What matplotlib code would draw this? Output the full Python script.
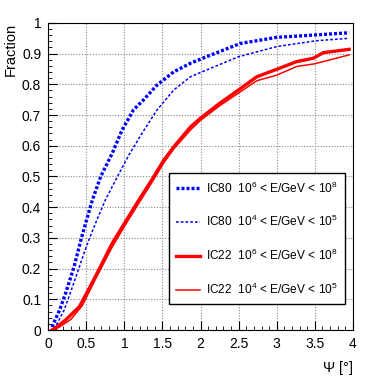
import matplotlib
matplotlib.use('Agg')
import matplotlib.pyplot as plt
from matplotlib.ticker import MultipleLocator, FormatStrFormatter

plt.rcParams['font.family'] = ['Liberation Sans', 'DejaVu Sans']
plt.rcParams['mathtext.fontset'] = 'custom'
plt.rcParams['mathtext.rm'] = 'Liberation Sans'
plt.rcParams['mathtext.it'] = 'Liberation Sans'

# IC80, 10^6 < E/GeV < 10^8
ic80_hi_x = [0.05, 0.15, 0.23, 0.34, 0.43, 0.5, 0.58, 0.69, 0.84, 0.97, 1.12, 1.25,
             1.43, 1.65, 1.87, 2.08, 2.52, 3.0, 3.52, 3.95]
ic80_hi_y = [0.01, 0.065, 0.12, 0.206, 0.293, 0.355, 0.423, 0.5, 0.575, 0.651, 0.717, 0.749,
             0.798, 0.841, 0.869, 0.89, 0.933, 0.953, 0.961, 0.968]

# IC80, 10^4 < E/GeV < 10^5
ic80_lo_x = [0.07, 0.12, 0.21, 0.32, 0.41, 0.5, 0.62, 0.75, 0.91, 1.06, 1.23, 1.36,
             1.43, 1.65, 1.87, 2.08, 2.5, 3.0, 3.52, 3.95]
ic80_lo_y = [0.005, 0.022, 0.065, 0.141, 0.206, 0.271, 0.347, 0.423, 0.5, 0.57, 0.64, 0.69,
             0.717, 0.782, 0.825, 0.847, 0.89, 0.923, 0.942, 0.95]

# IC22, 10^6 < E/GeV < 10^8
ic22_hi_x = [0.05, 0.1, 0.23, 0.41, 0.62, 0.84, 1.0, 1.19, 1.36, 1.52, 1.65, 1.87, 2.0,
             2.25, 2.5, 2.74, 3.0, 3.26, 3.48, 3.61, 3.95]
ic22_hi_y = [0.0, 0.008, 0.033, 0.076, 0.174, 0.282, 0.347, 0.423, 0.489, 0.554, 0.597, 0.662, 0.69,
             0.738, 0.782, 0.825, 0.849, 0.874, 0.885, 0.903, 0.914]

# IC22, 10^4 < E/GeV < 10^5
ic22_lo_x = [0.07, 0.15, 0.3, 0.45, 0.62, 0.84, 1.0, 1.19, 1.36, 1.52, 1.65, 1.87, 2.0,
             2.25, 2.5, 2.74, 3.0, 3.26, 3.5, 3.95]
ic22_lo_y = [0.0, 0.01, 0.035, 0.08, 0.165, 0.27, 0.337, 0.413, 0.48, 0.545, 0.59, 0.652, 0.683,
             0.73, 0.772, 0.812, 0.83, 0.858, 0.867, 0.896]

labels = [r'IC80  10$^{6}$ < E/GeV < 10$^{8}$',
          r'IC80  10$^{4}$ < E/GeV < 10$^{5}$',
          r'IC22  10$^{6}$ < E/GeV < 10$^{8}$',
          r'IC22  10$^{4}$ < E/GeV < 10$^{5}$']

fig = plt.figure(figsize=(3.82, 3.82), dpi=100)
ax = fig.add_axes([0.126, 0.136, 0.798, 0.804])

ax.plot(ic80_hi_x, ic80_hi_y, color='#0000ff', lw=2.4, ls=(0, (0.9, 0.6)),
        dash_capstyle='butt', label=labels[0])
ax.plot(ic80_lo_x, ic80_lo_y, color='#0000ff', lw=1.1, ls=(0, (1.8, 1.3)), label=labels[1])
ax.plot(ic22_hi_x, ic22_hi_y, color='#ff0000', lw=2.4, label=labels[2])
ax.plot(ic22_lo_x, ic22_lo_y, color='#ff0000', lw=1.1, label=labels[3])

ax.set_xlim(0, 4)
ax.set_ylim(0, 1)
ax.xaxis.set_major_locator(MultipleLocator(0.5))
ax.xaxis.set_minor_locator(MultipleLocator(0.1))
ax.yaxis.set_major_locator(MultipleLocator(0.1))
ax.yaxis.set_minor_locator(MultipleLocator(0.02))
ax.xaxis.set_major_formatter(FormatStrFormatter('%g'))
ax.yaxis.set_major_formatter(FormatStrFormatter('%g'))
ax.tick_params(which='both', direction='in', labelsize=10)
ax.tick_params(which='major', length=6.5, pad=5)
ax.tick_params(which='minor', length=3.2)
ax.grid(True, which='major', color='#888888', ls=(0, (1, 1.5)), lw=0.8)

ax.set_xlabel(r'$\Psi$ [°]', loc='right', fontsize=10.5, labelpad=6)
ax.set_ylabel('Fraction', loc='top', fontsize=10.5)
ax.yaxis.set_label_coords(-0.1, 1.0)

leg = ax.legend(loc='lower right', bbox_to_anchor=(0.974, 0.085), fontsize=8.6,
                handlelength=2.0, handletextpad=0.5, labelspacing=1.55, borderpad=0.6,
                borderaxespad=0, fancybox=False, framealpha=1, edgecolor='black')
leg.get_frame().set_linewidth(1.0)

fig.savefig('out.png', dpi=100)
